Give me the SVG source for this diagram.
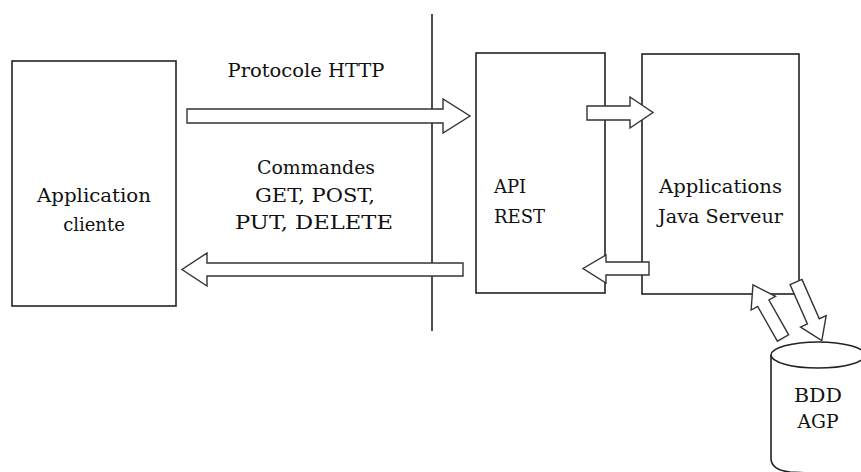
<svg xmlns="http://www.w3.org/2000/svg" width="861" height="472" viewBox="0 0 861 472">
<style>
.box{fill:#fff;stroke:#222;stroke-width:1.6}
.arr{fill:#fff;stroke:#333;stroke-width:1.4;stroke-linejoin:miter}
.t{font-family:"DejaVu Serif","Liberation Serif",serif;font-size:18px;fill:#111}
.line{stroke:#222;stroke-width:1.6}
</style>
<rect width="861" height="472" fill="#fff"/>
<g id="divider"><line class="line" x1="432" y1="14" x2="432" y2="331"/></g>
<g id="client">
<rect class="box" x="12" y="61" width="164" height="245"/>
<text class="t" x="94" y="202" text-anchor="middle" textLength="114" lengthAdjust="spacingAndGlyphs">Application</text>
<text class="t" x="94" y="231" text-anchor="middle">cliente</text>
</g>
<g id="api">
<rect class="box" x="476" y="53" width="129" height="240"/>
<text class="t" x="494" y="193">API</text>
<text class="t" x="494" y="223">REST</text>
</g>
<g id="apps">
<rect class="box" x="642" y="54" width="157" height="240"/>
<text class="t" x="720.5" y="193" text-anchor="middle" textLength="123" lengthAdjust="spacingAndGlyphs">Applications</text>
<text class="t" x="720.5" y="223" text-anchor="middle" textLength="125" lengthAdjust="spacingAndGlyphs">Java Serveur</text>
</g>
<g id="bdd">
<path class="box" d="M771,355 L771,458 Q771,470 790,472 L865,476 L865,355"/>
<ellipse class="box" cx="818" cy="355" rx="47" ry="13"/>
<text class="t" x="818" y="402" text-anchor="middle" textLength="48" lengthAdjust="spacingAndGlyphs">BDD</text>
<text class="t" x="818" y="428" text-anchor="middle" textLength="41" lengthAdjust="spacingAndGlyphs">AGP</text>
</g>
<g id="labels">
<text class="t" x="306" y="77" text-anchor="middle" textLength="157" lengthAdjust="spacingAndGlyphs">Protocole HTTP</text>
<text class="t" x="316" y="174" text-anchor="middle" textLength="118" lengthAdjust="spacingAndGlyphs">Commandes</text>
<text class="t" x="315" y="202" text-anchor="middle" textLength="120" lengthAdjust="spacingAndGlyphs">GET, POST,</text>
<text class="t" x="314" y="229" text-anchor="middle" textLength="158" lengthAdjust="spacingAndGlyphs">PUT, DELETE</text>
</g>
<g id="connectors">
<polygon class="arr" points="187,109 443,109 443,99 470,116 443,133 443,123 187,123"/>
<polygon class="arr" points="463,263 207,263 207,253 182,269.5 207,286 207,276 463,276"/>
<polygon class="arr" points="587,106 630,106 630,97 653,112.5 630,128 630,120 587,120"/>
<polygon class="arr" points="649,262 606,262 606,255 583,268.5 606,283 606,275 649,275"/>
<polygon class="arr" transform="translate(783,338) rotate(240.5)" points="0,-6.5 40,-6.5 40,-14 61,0 40,14 40,6.5 0,6.5"/>
<polygon class="arr" transform="translate(796,282) rotate(66.2)" points="0,-6.5 43,-6.5 43,-14 64,0 43,14 43,6.5 0,6.5"/>
</g>
</svg>
